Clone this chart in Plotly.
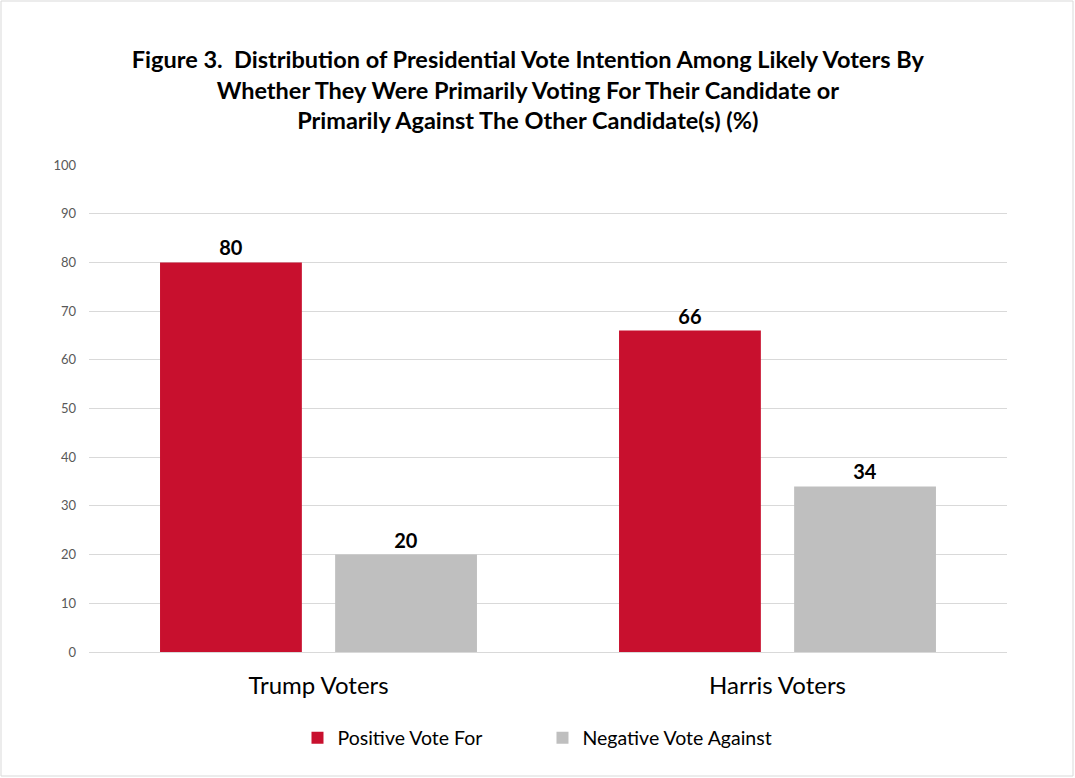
import plotly.graph_objects as go

categories = ["Trump Voters", "Harris Voters"]
positive_for = [80, 66]
negative_against = [20, 34]
y_ticks = [0, 10, 20, 30, 40, 50, 60, 70, 80, 90, 100]

FONT = "Lato, Carlito, Calibri, sans-serif"
W, H = 1075, 778
L, R, T, B = 89, 68, 165, 126
pw, ph = W - L - R, H - T - B

fig = go.Figure()
fig.add_trace(go.Bar(
    name="Positive Vote For", x=categories, y=positive_for,
    marker=dict(color="#C8102E", line=dict(width=0)),
    text=positive_for, textposition="outside",
    textfont=dict(family=FONT, size=20, color="#000000", weight="bold"),
    cliponaxis=False,
))
fig.add_trace(go.Bar(
    name="Negative Vote Against", x=categories, y=negative_against,
    marker=dict(color="#BFBFBF", line=dict(width=0)),
    text=negative_against, textposition="outside",
    textfont=dict(family=FONT, size=20, color="#000000", weight="bold"),
    cliponaxis=False,
))

fig.update_layout(
    width=W, height=H,
    margin=dict(l=L, r=R, t=T, b=B),
    paper_bgcolor="white", plot_bgcolor="white",
    barmode="group", bargap=0.237, bargroupgap=0.19,
    font=dict(family=FONT, color="#000000"),
    title=dict(
        text="Figure 3.  Distribution of Presidential Vote Intention Among Likely Voters By<br>"
             "Whether They Were Primarily Voting For Their Candidate or<br>"
             "Primarily Against The Other Candidate(s) (%)",
        x=0.491, xanchor="center", y=1 - 68 / H, yanchor="middle",
        font=dict(family=FONT, size=23.5, color="#000000", weight="bold"),
    ),
    xaxis=dict(
        tickfont=dict(family=FONT, size=24, color="#000000"),
        ticklabelstandoff=17,
        showline=False, showgrid=False, ticks="",
    ),
    yaxis=dict(
        range=[0, 100], tickvals=y_ticks,
        tickfont=dict(family=FONT, size=13, color="#595959"),
        ticklabelstandoff=12,
        showgrid=True, gridcolor="#D9D9D9", gridwidth=1,
        zeroline=True, zerolinecolor="#D9D9D9", zerolinewidth=1,
        showline=False, ticks="",
    ),
    legend=dict(
        orientation="h", x=0.494, xanchor="center",
        y=-(738 - (T + ph)) / ph, yanchor="middle",
        font=dict(family=FONT, size=19.5, color="#000000"),
        itemwidth=30, traceorder="normal",
        entrywidth=200,
    ),
    showlegend=True,
)

# thin frame around the whole figure
fig.add_shape(
    type="rect", xref="paper", yref="paper",
    x0=(1 - L) / pw, x1=(W - 2 - L) / pw,
    y0=-(H - 2 - T - ph) / ph, y1=(T - 1) / ph + 1,
    line=dict(color="#D9D9D9", width=1), fillcolor="rgba(0,0,0,0)", layer="below",
)

fig.write_html("out.html")
